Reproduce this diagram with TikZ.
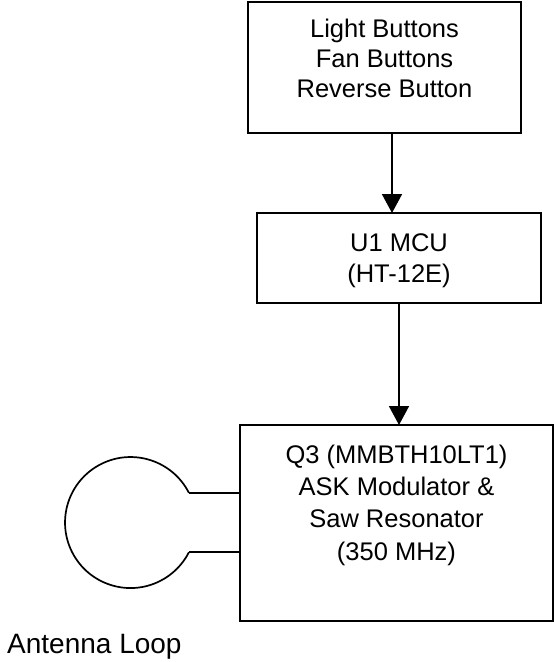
\documentclass[tikz,border=0pt]{standalone}
\usepackage{fontspec}
\setmainfont{Liberation Sans}
\usetikzlibrary{positioning,arrows.meta}
\tikzset{
  blockbox/.style={draw, line width=1.7pt, align=center, inner sep=0pt, outer sep=0pt,
    font=\fontsize{25.5}{30}\selectfont},
  flowarrow/.style={line width=1.7pt, -{Triangle[length=19pt,width=20pt]}},
  wire/.style={line width=1.7pt}
}
\begin{document}
\begin{tikzpicture}[x=1pt, y=-1pt, node distance=80pt]
   \useasboundingbox (0,0) rectangle (554,662);
   \node[blockbox, minimum width=273pt, minimum height=131pt, text depth=18pt] (buttons) at (384.5,67.5) {Light Buttons\\Fan Buttons\\Reverse Button};
   \node[blockbox, font=\fontsize{25.5}{31.5}\selectfont, minimum width=284pt, minimum height=90pt, text depth=0pt, below=80pt of buttons, xshift=14.5pt] (mcu) {U1 MCU\\(HT-12E)};
   \node[blockbox, font=\fontsize{25.5}{32.2}\selectfont, minimum width=313pt, minimum height=196pt, text depth=41pt, below=122pt of mcu, xshift=-2.5pt] (ask) {Q3 (MMBTH10LT1)\\ASK Modulator \&\\Saw Resonator\\(350 MHz)};
   \draw[flowarrow] ([xshift=7.5pt]buttons.south) -- ([xshift=7.5pt]buttons.south |- mcu.north);
   \draw[flowarrow] (mcu.south) -- (mcu.south |- ask.north);
   % antenna loop
   \coordinate (loopa) at (188.9,492.8);
   \coordinate (loopb) at (188.9,552.2);
   \draw[wire] (loopa) arc[start angle=27, end angle=333, radius=65.5pt];
   \draw[wire] (loopa) -- (loopa -| ask.west);
   \draw[wire] (loopb) -- (loopb -| ask.west);
   \node[anchor=base west, inner sep=0pt, font=\fontsize{28}{32}\selectfont] (looplabel) at (7,653.3) {Antenna Loop};
 \end{tikzpicture}
\end{document}
